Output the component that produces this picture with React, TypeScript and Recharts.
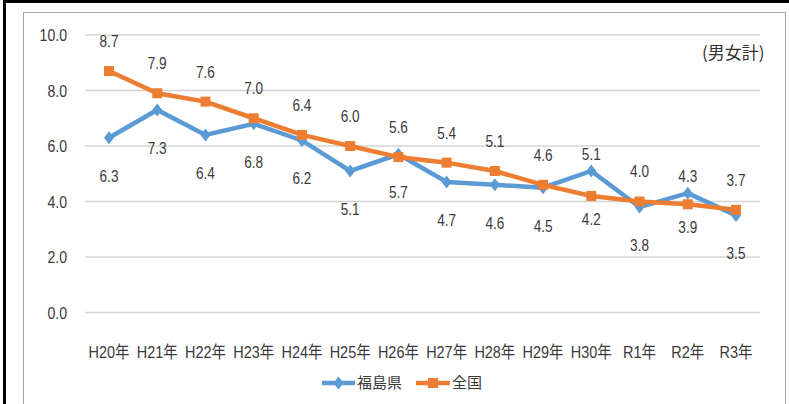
import React from 'react';
import { LineChart, Line, XAxis, YAxis, CartesianGrid, Legend } from 'recharts';

const categories = ['H20年', 'H21年', 'H22年', 'H23年', 'H24年', 'H25年', 'H26年', 'H27年', 'H28年', 'H29年', 'H30年', 'R1年', 'R2年', 'R3年'];
const fukushima = [6.3, 7.3, 6.4, 6.8, 6.2, 5.1, 5.7, 4.7, 4.6, 4.5, 5.1, 3.8, 4.3, 3.5];
const national = [8.7, 7.9, 7.6, 7.0, 6.4, 6.0, 5.6, 5.4, 5.1, 4.6, 4.2, 4.0, 3.9, 3.7];
const yTicks = [0, 2, 4, 6, 8, 10];
const seriesNames = ['福島県', '全国'];

const data = categories.map((c, i) => ({ name: c, fukushima: fukushima[i], national: national[i] }));

const FONT = "'Liberation Sans', Arial, 'Noto Sans CJK JP', sans-serif";
const CJK = "'Noto Sans CJK JP', sans-serif";
const TEXT = '#3a3a3a';
const BLUE = '#5B9BD5';
const ORANGE = '#ED7D31';

const DiamondDot = (props: any) => {
  const { cx, cy, index } = props;
  if (cx == null || cy == null) return null;
  return <polygon key={`d${index}`} points={`${cx},${cy - 6.5} ${cx + 5},${cy} ${cx},${cy + 6.5} ${cx - 5},${cy}`} fill={BLUE} />;
};

const SquareDot = (props: any) => {
  const { cx, cy, index } = props;
  if (cx == null || cy == null) return null;
  return <rect key={`s${index}`} x={cx - 5} y={cy - 5} width={10} height={10} fill={ORANGE} />;
};

const XTick = (props: any) => {
  const { x, y, payload } = props;
  return (
    <g transform={`translate(${x},${y})`}>
      <text transform="scale(0.85,1)" textAnchor="middle" dy="0.71em" fontFamily={FONT} fontSize={17} fill={TEXT}>
        {payload.value}
      </text>
    </g>
  );
};

const YTick = (props: any) => {
  const { x, y, payload } = props;
  return (
    <g transform={`translate(${x},${y})`}>
      <text transform="scale(0.83,1)" textAnchor="end" dy="0.355em" fontFamily={FONT} fontSize={17} fill={TEXT}>
        {Number(payload.value).toFixed(1)}
      </text>
    </g>
  );
};

const makeLabel = (isBlue: boolean) => (props: any) => {
  const { x, y, index, value } = props;
  if (x == null || y == null) return null;
  const blueAbove = fukushima[index] > national[index] + 0.2;
  let off: number;
  if (isBlue) off = blueAbove ? -17 : 38;
  else off = blueAbove ? 23 : -30;
  return (
    <g key={`l${isBlue ? 'b' : 'o'}${index}`} transform={`translate(${x},${y + off})`}>
      <text transform="scale(0.8,1)" dy="0.35em" textAnchor="middle" fontFamily={FONT} fontSize={17} fill={TEXT}>
        {Number(value).toFixed(1)}
      </text>
    </g>
  );
};

const LegendContent = () => (
  <svg width={789} height={24} style={{ display: 'block' }}>
    <line x1={322} y1={12} x2={355} y2={12} stroke={BLUE} strokeWidth={4.5} />
    <polygon points={`338.5,5.5 343.5,12 338.5,18.5 333.5,12`} fill={BLUE} />
    <text x={357} y={12} dy="0.35em" fontFamily={CJK} fontSize={15} fill={TEXT}>{seriesNames[0]}</text>
    <line x1={416} y1={12} x2={450} y2={12} stroke={ORANGE} strokeWidth={4.5} />
    <rect x={428} y={7} width={10} height={10} fill={ORANGE} />
    <text x={452} y={12} dy="0.35em" fontFamily={CJK} fontSize={15} fill={TEXT}>{seriesNames[1]}</text>
  </svg>
);

export default function App() {
  return (
    <div style={{ position: 'absolute', left: 0, top: 0, width: 789, height: 404, background: '#fff', overflow: 'hidden' }}>
      <div style={{ position: 'absolute', left: 3, top: 0, width: 800, height: 420, borderTop: '3px solid #000', borderLeft: '3px solid #000', boxSizing: 'border-box' }} />
      <div style={{ position: 'absolute', left: 23, top: 12, width: 763, height: 430, border: '1.5px solid #a6a6a6', boxSizing: 'border-box' }} />
      <div style={{ position: 'absolute', left: 702, top: 41, fontFamily: CJK, fontSize: 17, color: '#333', lineHeight: '22px', whiteSpace: 'nowrap' }}>(男女計)</div>
      <div style={{ position: 'absolute', left: 0, top: 0 }}>
        <LineChart width={789} height={404} data={data} margin={{ top: 35, right: 29, left: 25, bottom: 37.5 }}>
          <CartesianGrid vertical={false} stroke="#d4d4d4" strokeWidth={1.5} />
          <XAxis
            dataKey="name"
            axisLine={false}
            tickLine={false}
            interval={0}
            height={30}
            padding={{ left: 24, right: 24 }}
            tickMargin={27}
            tick={XTick}
          />
          <YAxis
            domain={[0, 10]}
            ticks={yTicks}
            width={60}
            axisLine={false}
            tickLine={false}
            tickMargin={12}
            tick={YTick}
          />
          <Legend content={LegendContent} wrapperStyle={{ position: 'absolute', left: 0, top: 371, width: 789, height: 24 }} />
          <Line type="linear" dataKey="fukushima" name={seriesNames[0]} stroke={BLUE} strokeWidth={4.5} dot={DiamondDot} activeDot={false} label={makeLabel(true)} isAnimationActive={false} />
          <Line type="linear" dataKey="national" name={seriesNames[1]} stroke={ORANGE} strokeWidth={4.5} dot={SquareDot} activeDot={false} label={makeLabel(false)} isAnimationActive={false} />
        </LineChart>
      </div>
    </div>
  );
}
